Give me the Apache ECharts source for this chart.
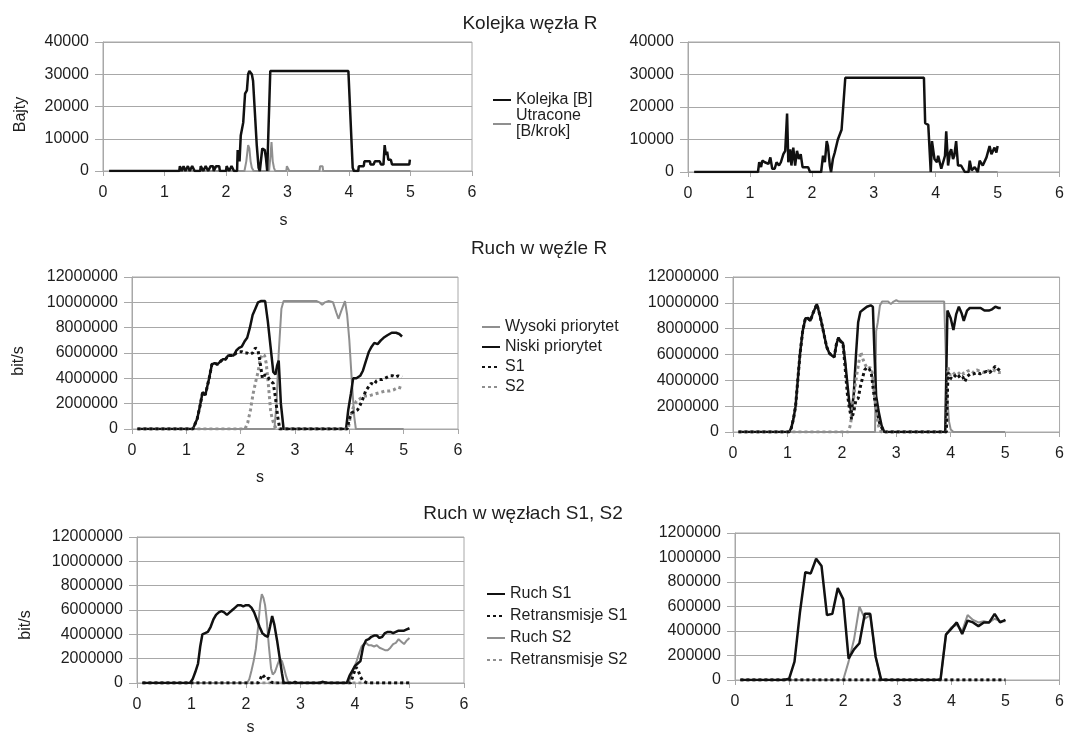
<!DOCTYPE html>
<html>
<head>
<meta charset="utf-8">
<script src="https://cdn.jsdelivr.net/npm/echarts@6/dist/echarts.min.js"></script>
<style>
  html, body { margin: 0; padding: 0; background: #fff; }
  #chart { width: 1067px; height: 738px; }
</style>
</head>
<body>
<div id="chart"></div>
<script>
// time [s], value pairs

// Kolejka węzła R  (bytes)
const kolejkaLeft = [[0.1,0],[1.24,0],[1.25,1500],[1.27,1500],[1.28,0],[1.30,0],[1.31,1500],[1.33,1500],[1.34,0],[1.37,0],[1.38,1500],[1.40,1500],[1.41,0],[1.44,0],[1.45,1500],[1.48,1500],[1.49,0],[1.58,0],[1.59,1500],[1.62,1500],[1.63,0],[1.66,0],[1.67,1500],[1.70,1500],[1.71,0],[1.74,0],[1.75,1500],[1.79,1500],[1.80,0],[1.83,0],[1.84,1500],[1.89,1500],[1.90,0],[2.00,0],[2.01,1500],[2.04,1500],[2.05,0],[2.08,0],[2.09,1500],[2.12,1500],[2.13,0],[2.18,0],[2.19,6500],[2.21,6500],[2.22,3000],[2.24,11000],[2.26,11000],[2.28,15000],[2.31,24000],[2.34,25000],[2.36,30000],[2.38,31000],[2.40,31000],[2.42,30000],[2.44,28000],[2.47,18000],[2.50,8000],[2.53,1000],[2.55,0],[2.58,0],[2.59,7000],[2.63,6500],[2.65,4000],[2.67,0],[2.70,0],[2.72,31000],[3.99,31000],[4.06,1000],[4.08,0],[4.15,0],[4.16,1500],[4.24,1500],[4.25,3000],[4.34,3000],[4.35,2000],[4.40,2000],[4.42,3000],[4.50,3000],[4.52,2000],[4.56,2000],[4.58,8000],[4.60,5000],[4.62,6000],[4.64,3500],[4.68,3500],[4.70,2000],[4.98,2000],[4.99,3500],[5.0,3500]];
const utraconeLeft = [[0.1,0],[2.30,0],[2.33,3000],[2.36,8000],[2.38,7000],[2.40,3000],[2.42,1000],[2.45,0],[2.70,0],[2.72,4000],[2.74,9000],[2.76,3000],[2.78,1000],[2.80,0],[2.98,0],[2.99,1500],[3.02,1500],[3.03,0],[3.52,0],[3.53,1500],[3.57,1500],[3.58,0],[5.0,0]];
const kolejkaRight = [[0.1,0],[1.13,0],[1.15,3000],[1.18,1500],[1.20,3500],[1.24,3000],[1.27,3500],[1.30,2500],[1.33,4500],[1.36,1000],[1.40,1000],[1.43,3000],[1.47,2000],[1.50,3000],[1.54,5500],[1.57,6500],[1.60,18000],[1.62,3000],[1.65,7000],[1.67,2000],[1.70,7500],[1.73,2000],[1.76,6500],[1.79,4000],[1.82,5500],[1.85,1500],[1.94,1500],[1.97,0],[2.15,0],[2.18,5000],[2.21,3000],[2.24,9500],[2.26,8000],[2.29,2000],[2.31,0],[2.34,4000],[2.37,6000],[2.42,10000],[2.46,12000],[2.48,13000],[2.51,12500],[2.54,29000],[3.81,29000],[3.83,15000],[3.88,14500],[3.92,0],[3.94,9500],[3.98,4000],[4.02,3000],[4.04,5000],[4.09,1000],[4.12,3000],[4.15,5000],[4.17,12500],[4.20,2000],[4.23,6000],[4.25,7000],[4.28,4000],[4.30,5000],[4.33,9500],[4.36,2000],[4.41,2000],[4.47,0],[4.53,0],[4.55,3500],[4.58,500],[4.63,1500],[4.68,0],[4.71,3500],[4.76,2000],[4.82,4500],[4.87,8000],[4.90,5500],[4.95,7500],[4.98,6000],[5.0,8000]];
const utraconeRight = [[0.1,0],[5.0,0]];

// Ruch w węźle R  (Mbit/s)
const wysokiLeft = [[0.1,0],[2.62,0],[2.66,2],[2.70,6],[2.75,9.5],[2.79,10.1],[3.30,10.1],[3.40,10.1],[3.45,10.0],[3.50,9.8],[3.55,10.0],[3.62,10.1],[3.70,10.0],[3.76,9.2],[3.80,8.7],[3.85,9.3],[3.92,10.1],[3.96,9.0],[4.00,7.0],[4.05,3.5],[4.09,1.0],[4.12,0],[5.0,0]];
const niskiLeft = [[0.1,0],[1.12,0],[1.15,0.3],[1.20,0.8],[1.25,1.8],[1.30,2.9],[1.35,2.7],[1.38,2.8],[1.42,4.0],[1.47,5.1],[1.52,5.2],[1.57,5.1],[1.62,5.3],[1.67,5.5],[1.72,5.5],[1.77,5.8],[1.82,5.8],[1.87,5.8],[1.92,6.2],[1.97,6.4],[2.02,6.5],[2.07,6.9],[2.12,7.2],[2.17,8.0],[2.22,9.0],[2.27,9.5],[2.32,10.0],[2.37,10.1],[2.45,10.1],[2.50,8.5],[2.55,6.5],[2.60,4.5],[2.64,4.3],[2.67,5.0],[2.70,5.4],[2.74,2.0],[2.79,0],[3.94,0],[3.98,1.5],[4.03,2.8],[4.07,4.0],[4.13,4.0],[4.20,4.2],[4.25,4.6],[4.30,5.3],[4.36,6.1],[4.41,6.5],[4.46,6.8],[4.52,6.7],[4.58,7.0],[4.63,7.2],[4.70,7.4],[4.78,7.6],[4.86,7.6],[4.92,7.5],[4.97,7.3]];
const s1Left = [[0.1,0],[1.12,0],[1.15,0.3],[1.20,0.8],[1.25,1.8],[1.30,2.9],[1.35,2.7],[1.38,2.8],[1.42,4.0],[1.47,5.1],[1.52,5.2],[1.57,5.1],[1.62,5.3],[1.67,5.5],[1.72,5.5],[1.77,5.8],[1.82,5.8],[1.87,5.8],[1.92,6.0],[1.97,6.1],[2.02,6.1],[2.07,6.0],[2.12,6.0],[2.17,5.9],[2.22,6.0],[2.27,6.4],[2.32,6.2],[2.36,5.2],[2.40,4.0],[2.45,4.3],[2.50,4.1],[2.55,3.8],[2.60,3.6],[2.64,2.5],[2.68,1.0],[2.72,0],[3.96,0],[4.00,0.8],[4.05,1.3],[4.10,1.4],[4.15,1.5],[4.20,1.9],[4.25,2.4],[4.30,3.0],[4.35,3.3],[4.40,3.6],[4.45,3.5],[4.50,3.8],[4.55,3.9],[4.60,3.9],[4.65,4.0],[4.70,4.1],[4.75,4.2],[4.80,4.2],[4.85,4.1],[4.90,4.2],[4.97,4.1]];
const s2Left = [[0.1,0],[2.08,0],[2.13,0.5],[2.18,1.5],[2.23,2.8],[2.28,3.8],[2.32,4.5],[2.36,5.5],[2.40,5.9],[2.44,5.8],[2.47,5.2],[2.51,3.5],[2.55,1.5],[2.58,0.8],[2.62,0.3],[2.66,0],[3.98,0],[4.02,1.0],[4.08,1.8],[4.13,2.2],[4.20,2.4],[4.28,2.6],[4.35,2.6],[4.42,2.7],[4.50,2.8],[4.58,2.9],[4.66,3.0],[4.74,3.0],[4.82,3.1],[4.90,3.3],[4.97,3.2]];
const wysokiRight = [[0.1,0],[2.61,0],[2.63,7.8],[2.66,8.5],[2.70,9.8],[2.74,10.1],[2.85,10.1],[2.90,9.9],[2.95,10.1],[3.00,10.2],[3.05,10.1],[3.88,10.1],[3.91,6.0],[3.94,2.5],[3.97,0.8],[4.00,0.2],[4.05,0],[5.0,0]];
const niskiRight = [[0.1,0],[1.03,0],[1.07,0.3],[1.11,1.0],[1.15,2.0],[1.19,4.0],[1.23,6.0],[1.28,7.8],[1.33,8.8],[1.38,8.8],[1.42,8.6],[1.47,9.2],[1.54,9.9],[1.58,9.3],[1.62,8.6],[1.67,7.6],[1.72,6.6],[1.77,6.1],[1.82,5.9],[1.86,5.8],[1.90,6.8],[1.94,7.3],[1.98,7.0],[2.02,6.9],[2.06,5.5],[2.10,3.8],[2.14,2.2],[2.18,1.5],[2.22,3.0],[2.26,6.0],[2.30,8.5],[2.34,9.3],[2.40,9.5],[2.46,9.7],[2.53,9.8],[2.57,9.7],[2.60,6.0],[2.63,2.8],[2.68,1.5],[2.73,0.5],[2.78,0],[3.90,0],[3.94,9.4],[4.00,8.8],[4.05,7.9],[4.10,9.1],[4.15,9.7],[4.20,9.2],[4.24,8.6],[4.30,9.4],[4.35,9.6],[4.45,9.6],[4.55,9.6],[4.62,9.4],[4.70,9.4],[4.76,9.5],[4.82,9.7],[4.88,9.6],[4.92,9.6]];
const s1Right = [[0.1,0],[1.03,0],[1.07,0.3],[1.11,1.0],[1.15,2.0],[1.19,4.0],[1.23,6.0],[1.28,7.8],[1.33,8.8],[1.38,8.8],[1.42,8.6],[1.47,9.2],[1.54,9.9],[1.58,9.3],[1.62,8.6],[1.67,7.6],[1.72,6.6],[1.77,6.1],[1.82,5.9],[1.86,5.8],[1.90,6.8],[1.94,7.3],[1.98,7.0],[2.02,6.9],[2.06,5.0],[2.10,3.0],[2.14,1.8],[2.18,1.0],[2.22,1.6],[2.26,2.5],[2.30,2.6],[2.34,3.5],[2.38,4.2],[2.42,4.8],[2.46,5.0],[2.50,4.9],[2.54,4.6],[2.58,3.2],[2.62,2.0],[2.66,1.3],[2.70,0.6],[2.75,0.2],[2.80,0],[3.92,0],[3.95,4.6],[3.99,4.2],[4.03,4.1],[4.07,4.3],[4.12,4.5],[4.17,4.2],[4.22,4.3],[4.26,3.9],[4.30,4.3],[4.36,4.5],[4.42,4.5],[4.48,4.6],[4.54,4.5],[4.60,4.6],[4.66,4.7],[4.72,4.6],[4.78,4.9],[4.82,5.1],[4.86,4.9],[4.92,4.7]];
const s2Right = [[0.1,0],[2.12,0],[2.16,0.6],[2.20,2.0],[2.24,3.5],[2.28,4.6],[2.32,5.6],[2.35,6.2],[2.39,5.6],[2.43,5.2],[2.47,4.9],[2.52,5.0],[2.56,4.6],[2.60,2.8],[2.64,1.2],[2.68,0.4],[2.72,0],[3.92,0],[3.95,5.0],[3.99,4.4],[4.04,4.6],[4.09,4.4],[4.14,4.5],[4.19,4.7],[4.24,4.5],[4.30,4.7],[4.36,4.8],[4.42,4.6],[4.48,4.8],[4.54,4.7],[4.60,4.6],[4.66,4.8],[4.72,4.7],[4.78,4.8],[4.84,4.7],[4.88,4.6],[4.92,4.6]];

// Ruch w węzłach S1, S2  (left: Mbit/s, right: kbit/s)
const ruchS1Left = [[0.1,0],[0.97,0],[1.02,0.3],[1.07,0.9],[1.12,1.6],[1.16,3.0],[1.20,4.0],[1.25,4.1],[1.30,4.2],[1.35,4.6],[1.40,5.2],[1.45,5.6],[1.50,5.8],[1.55,5.9],[1.60,5.8],[1.65,5.6],[1.70,5.8],[1.75,6.0],[1.80,6.2],[1.85,6.4],[1.90,6.4],[1.95,6.3],[2.00,6.4],[2.05,6.4],[2.10,6.2],[2.15,5.8],[2.20,5.2],[2.25,4.6],[2.30,4.1],[2.35,3.9],[2.40,3.8],[2.44,4.6],[2.48,5.5],[2.52,4.8],[2.57,3.5],[2.62,2.0],[2.66,0.8],[2.69,0],[2.86,0],[2.90,0.1],[2.94,0],[3.35,0],[3.40,0.1],[3.45,0.05],[3.50,0],[3.85,0],[3.90,0.6],[3.95,1.0],[4.00,1.4],[4.05,1.6],[4.10,1.8],[4.15,3.0],[4.20,3.5],[4.25,3.6],[4.30,3.8],[4.35,3.9],[4.40,3.9],[4.45,3.7],[4.50,3.8],[4.55,4.1],[4.60,4.2],[4.65,4.2],[4.70,4.1],[4.75,4.2],[4.80,4.3],[4.85,4.3],[4.90,4.3],[4.95,4.4],[5.0,4.5]];
const retrS1Left = [[0.1,0],[2.22,0],[2.26,0.3],[2.30,0.7],[2.34,0.5],[2.38,0.3],[2.42,0.4],[2.46,0.1],[2.50,0],[3.92,0],[3.97,0.7],[4.02,1.3],[4.06,1.0],[4.10,0.5],[4.14,0.2],[4.20,0.05],[4.25,0],[5.0,0]];
const ruchS2Left = [[0.1,0],[2.02,0],[2.06,0.3],[2.10,1.0],[2.14,1.8],[2.18,2.8],[2.22,4.5],[2.26,6.5],[2.29,7.3],[2.32,7.0],[2.35,6.4],[2.38,5.2],[2.42,3.0],[2.46,1.2],[2.49,0.7],[2.53,0.9],[2.57,1.4],[2.62,2.0],[2.66,1.8],[2.70,1.2],[2.74,0.5],[2.78,0],[3.88,0],[3.93,0.6],[3.98,1.2],[4.03,1.8],[4.08,2.5],[4.12,3.0],[4.16,3.2],[4.20,3.3],[4.25,3.1],[4.30,3.1],[4.35,3.0],[4.40,3.1],[4.45,2.9],[4.50,2.8],[4.55,2.7],[4.60,2.7],[4.65,2.9],[4.70,3.2],[4.75,3.3],[4.80,3.6],[4.85,3.4],[4.90,3.2],[4.95,3.5],[5.0,3.7]];
const retrS2Left = [[0.1,0],[5.0,0]];
const ruchS1Right = [[0.1,0],[0.9,0],[1.0,10],[1.1,150],[1.2,550],[1.3,880],[1.4,870],[1.5,990],[1.6,930],[1.7,530],[1.8,540],[1.9,750],[2.0,660],[2.1,175],[2.2,250],[2.3,300],[2.4,540],[2.5,540],[2.6,190],[2.7,5],[2.8,0],[3.7,0],[3.8,5],[3.9,370],[4.0,420],[4.1,470],[4.2,375],[4.3,485],[4.4,470],[4.5,440],[4.6,470],[4.7,470],[4.8,540],[4.9,470],[5.0,490]];
const retrS1Right = [[0.1,0],[5.0,0]];
const ruchS2Right = [[0.1,0],[2.0,0],[2.1,150],[2.2,330],[2.3,600],[2.4,500],[2.5,530],[2.6,190],[2.7,0],[3.8,0],[3.9,370],[4.0,430],[4.1,450],[4.2,400],[4.3,530],[4.4,490],[4.5,470],[4.6,480],[4.7,470],[4.8,500],[4.9,480],[5.0,480]];
const retrS2Right = [[0.1,0],[5.0,0]];

const FONT = '"Liberation Sans", Arial, sans-serif';
const TEXT = '#1e1e1e';
const BLACK = '#111';
const GRAY = '#8f8f8f';
const RULE = '#a8a8a8';

const grids = [
  { left: 103, top: 42, width: 369, height: 129 },
  { left: 688, top: 42, width: 372, height: 130 },
  { left: 132, top: 277, width: 326, height: 152 },
  { left: 733, top: 277, width: 328, height: 155 },
  { left: 137, top: 537, width: 327, height: 146 },
  { left: 735, top: 533, width: 330, height: 147 }
];

const yRanges = [
  { max: 40000, interval: 10000 },
  { max: 40000, interval: 10000 },
  { max: 12000000, interval: 2000000 },
  { max: 12000000, interval: 2000000 },
  { max: 12000000, interval: 2000000 },
  { max: 1200000, interval: 200000 }
];

// axis titles: [x name, x gap, x shift left, y name, y gap, y shift down]
const axisNames = [
  ['s', 42, 4, 'Bajty', 74, 8],
  ['', 0, 0, '', 0, 0],
  ['s', 41, 35, 'bit/s', 105, 8],
  ['', 0, 0, '', 0, 0],
  ['s', 37, 50, 'bit/s', 103, 15],
  ['', 0, 0, '', 0, 0]
];

const labelStyle = { color: TEXT, fontSize: 16, fontFamily: FONT };

const xAxes = grids.map((g, i) => {
  const [name, gap, shift] = axisNames[i];
  return {
    type: 'value', gridIndex: i, min: 0, max: 6, interval: 1,
    name, nameLocation: 'middle', nameGap: gap,
    nameTextStyle: { ...labelStyle, padding: [0, shift * 2, 0, 0] },
    axisLine: { show: true, lineStyle: { color: RULE } },
    axisTick: { show: true, length: 5, lineStyle: { color: RULE } },
    axisLabel: { ...labelStyle, margin: 14 },
    splitLine: { show: false }
  };
});

const yAxes = grids.map((g, i) => {
  const [, , , name, gap, shift] = axisNames[i];
  return {
    type: 'value', gridIndex: i, min: 0,
    max: yRanges[i].max, interval: yRanges[i].interval,
    name, nameLocation: 'middle', nameGap: gap,
    nameTextStyle: { ...labelStyle, padding: [0, shift * 2, 0, 0] },
    axisLine: { show: true, lineStyle: { color: RULE } },
    axisTick: { show: true, length: 8, lineStyle: { color: RULE } },
    axisLabel: { ...labelStyle, margin: 14, formatter: (v) => String(v) },
    splitLine: { show: true, lineStyle: { color: RULE, width: 1 } }
  };
});

const line = (name, pts, gi, color, width, dotted, unit) => ({
  name, type: 'line', xAxisIndex: gi, yAxisIndex: gi,
  data: pts.map(([t, v]) => [t, v * unit]),
  symbol: 'none', animation: false,
  lineStyle: { color, width, type: dotted ? [3, 3] : 'solid', cap: 'butt' },
  itemStyle: { color }
});

const M = 1000000, K = 1000;

const series = [
  line('Utracone [B/krok]', utraconeLeft, 0, GRAY, 2, false, 1),
  line('Kolejka [B]', kolejkaLeft, 0, BLACK, 2.5, false, 1),
  line('Utracone [B/krok]', utraconeRight, 1, GRAY, 2, false, 1),
  line('Kolejka [B]', kolejkaRight, 1, BLACK, 2.5, false, 1),

  line('Wysoki priorytet', wysokiLeft, 2, GRAY, 2, false, M),
  line('Niski priorytet', niskiLeft, 2, BLACK, 2.5, false, M),
  line('S2', s2Left, 2, GRAY, 3, true, M),
  line('S1', s1Left, 2, BLACK, 3, true, M),
  line('Wysoki priorytet', wysokiRight, 3, GRAY, 2, false, M),
  line('Niski priorytet', niskiRight, 3, BLACK, 2.5, false, M),
  line('S2', s2Right, 3, GRAY, 3, true, M),
  line('S1', s1Right, 3, BLACK, 3, true, M),

  line('Retransmisje S2', retrS2Left, 4, GRAY, 3, true, M),
  line('Ruch S2', ruchS2Left, 4, GRAY, 2, false, M),
  line('Ruch S1', ruchS1Left, 4, BLACK, 2.5, false, M),
  line('Retransmisje S1', retrS1Left, 4, BLACK, 3, true, M),
  line('Retransmisje S2', retrS2Right, 5, GRAY, 3, true, K),
  line('Ruch S2', ruchS2Right, 5, GRAY, 2, false, K),
  line('Ruch S1', ruchS1Right, 5, BLACK, 2.5, false, K),
  line('Retransmisje S1', retrS1Right, 5, BLACK, 3, true, K)
];

const legendBase = {
  orient: 'vertical', padding: 0, itemWidth: 18, itemHeight: 12,
  selectedMode: false,
  itemStyle: { opacity: 0, borderWidth: 0 },
  textStyle: { color: TEXT, fontSize: 16, fontFamily: FONT, lineHeight: 16 }
};

const legends = [
  { ...legendBase, left: 492, top: 92, itemGap: 0,
    data: ['Kolejka [B]', 'Utracone [B/krok]'],
    formatter: (n) => n === 'Utracone [B/krok]' ? 'Utracone\n[B/krok]' : n },
  { ...legendBase, left: 481, top: 319, itemGap: 4,
    data: ['Wysoki priorytet', 'Niski priorytet', 'S1', 'S2'] },
  { ...legendBase, left: 486, top: 586, itemGap: 6,
    data: ['Ruch S1', 'Retransmisje S1', 'Ruch S2', 'Retransmisje S2'] }
];

const titles = [
  ['Kolejka węzła R', 530, 24],
  ['Ruch w węźle R', 539, 249],
  ['Ruch w węzłach S1, S2', 523, 514]
];

const chart = echarts.init(document.getElementById('chart'));
chart.setOption({
  backgroundColor: '#fff',
  animation: false,
  grid: grids.map((g) => ({ ...g, show: true, borderColor: RULE, borderWidth: 1, backgroundColor: 'transparent' })),
  xAxis: xAxes,
  yAxis: yAxes,
  legend: legends,
  series,
  graphic: titles.map(([text, x, y]) => ({
    type: 'text', x, y,
    style: { text, fill: TEXT, fontSize: 19, fontFamily: FONT, align: 'center', verticalAlign: 'middle' }
  }))
});
</script>
</body>
</html>
